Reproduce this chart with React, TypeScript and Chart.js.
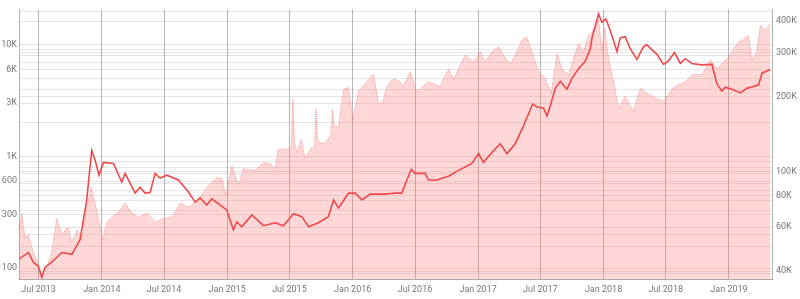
import React, { useEffect, useRef } from 'react';
import { Chart, registerables } from 'chart.js';

Chart.register(...registerables);

// ---- Data (decimal year -> value) ----
const priceYears = [
  2013.335, 2013.415, 2013.455, 2013.494, 2013.522, 2013.548, 2013.601, 2013.681, 2013.761, 2013.827,
  2013.88, 2013.92, 2013.947, 2013.978, 2014.013, 2014.093, 2014.159, 2014.186, 2014.266, 2014.305,
  2014.345, 2014.385, 2014.425, 2014.465, 2014.518, 2014.611, 2014.691, 2014.744, 2014.784, 2014.837,
  2014.877, 2014.943, 2014.997, 2015.049, 2015.077, 2015.116, 2015.196, 2015.289, 2015.382, 2015.448,
  2015.528, 2015.595, 2015.648, 2015.727, 2015.807, 2015.847, 2015.887, 2015.967, 2016.02, 2016.073,
  2016.14, 2016.259, 2016.339, 2016.392, 2016.432, 2016.467, 2016.498, 2016.578, 2016.604, 2016.671,
  2016.764, 2016.844, 2016.951, 2017.003, 2017.043, 2017.11, 2017.176, 2017.23, 2017.296, 2017.362,
  2017.402, 2017.434, 2017.469, 2017.522, 2017.549, 2017.575, 2017.615, 2017.655, 2017.708, 2017.748,
  2017.801, 2017.854, 2017.894, 2017.907, 2017.96, 2017.987, 2018.019, 2018.053, 2018.107, 2018.133,
  2018.173, 2018.213, 2018.266, 2018.319, 2018.346, 2018.386, 2018.426, 2018.478, 2018.514, 2018.566,
  2018.612, 2018.651, 2018.705, 2018.78, 2018.864, 2018.904, 2018.944, 2018.971, 2019.024, 2019.09,
  2019.144, 2019.236, 2019.263, 2019.329,
];
const priceValues = [
  120, 138, 113, 104, 83, 102, 113, 138, 133, 180,
  408, 1130, 922, 680, 885, 865, 590, 705, 470, 530,
  470, 475, 705, 640, 680, 615, 480, 390, 425, 368,
  417, 368, 330, 221, 260, 235, 300, 240, 255, 240,
  307, 289, 235, 255, 289, 408, 346, 470, 470, 408,
  460, 460, 470, 470, 615, 765, 705, 705, 615, 615,
  665, 750, 865, 1060, 885, 1085, 1300, 1060, 1300, 1880,
  2400, 2950, 2770, 2700, 2300, 2830, 4070, 4700, 4000, 5000,
  6100, 7100, 9200, 11300, 18800, 15900, 17000, 13500, 8700, 11500,
  11800, 9200, 7400, 9600, 10000, 9000, 8200, 6660, 7100, 8500,
  6800, 7500, 6800, 6600, 6660, 4450, 3850, 4170, 4000, 3700,
  4070, 4350, 5560, 6000,
];

const txYears = [
  2013.335, 2013.362, 2013.388, 2013.415, 2013.455, 2013.482, 2013.522, 2013.561, 2013.601, 2013.641,
  2013.667, 2013.694, 2013.729, 2013.761, 2013.801, 2013.841, 2013.88, 2013.915, 2013.947, 2013.986,
  2014.005, 2014.04, 2014.08, 2014.132, 2014.186, 2014.239, 2014.292, 2014.359, 2014.425, 2014.491,
  2014.558, 2014.624, 2014.691, 2014.77, 2014.837, 2014.917, 2014.957, 2014.989, 2015.037, 2015.089,
  2015.129, 2015.222, 2015.289, 2015.342, 2015.382, 2015.408, 2015.475, 2015.51, 2015.523, 2015.537,
  2015.555, 2015.589, 2015.621, 2015.669, 2015.695, 2015.707, 2015.72, 2015.741, 2015.781, 2015.825,
  2015.839, 2015.855, 2015.887, 2015.927, 2015.967, 2016.002, 2016.046, 2016.1, 2016.166, 2016.206,
  2016.233, 2016.273, 2016.325, 2016.379, 2016.405, 2016.459, 2016.512, 2016.604, 2016.698, 2016.764,
  2016.804, 2016.897, 2016.963, 2017.017, 2017.057, 2017.11, 2017.163, 2017.203, 2017.256, 2017.309,
  2017.349, 2017.389, 2017.429, 2017.482, 2017.535, 2017.583, 2017.628, 2017.668, 2017.721, 2017.761,
  2017.801, 2017.841, 2017.88, 2017.907, 2017.96, 2017.987, 2018.008, 2018.04, 2018.08, 2018.12,
  2018.173, 2018.239, 2018.292, 2018.359, 2018.426, 2018.478, 2018.545, 2018.598, 2018.651, 2018.718,
  2018.785, 2018.851, 2018.904, 2018.944, 2018.997, 2019.037, 2019.077, 2019.116, 2019.156, 2019.183,
  2019.223, 2019.25, 2019.29, 2019.329,
];
const txValues = [
  54800, 68200, 54300, 55800, 47300, 44400, 38000, 41700, 47300, 65000,
  58400, 56800, 60000, 51900, 58400, 53300, 72000, 86400, 74700, 60000,
  53300, 62800, 65700, 68800, 74700, 68200, 65700, 68200, 62800, 65000,
  65700, 74700, 72000, 76700, 86400, 94700, 93800, 80300, 105600, 88000,
  102800, 101000, 108600, 107600, 102800, 123000, 123000, 125000, 196000, 130000,
  119000, 135000, 112600, 124500, 125000, 179000, 135000, 130000, 130000, 140000,
  177000, 150000, 152000, 213000, 217000, 162000, 209000, 225000, 246000, 188000,
  186000, 219000, 236000, 229000, 219000, 251000, 209000, 229000, 219000, 258000,
  234000, 293000, 275000, 302000, 275000, 302000, 316000, 293000, 268000, 302000,
  336000, 346000, 302000, 251000, 236000, 206000, 296000, 258000, 244000, 283000,
  325000, 302000, 351000, 361000, 407000, 302000, 378000, 283000, 229000, 179000,
  200000, 174000, 215000, 204000, 196000, 191000, 215000, 223000, 229000, 246000,
  244000, 280000, 258000, 270000, 288000, 310000, 330000, 339000, 351000, 280000,
  302000, 385000, 368000, 390000,
];

// ---- Axis ticks ----
const xTickYears = [2013.496, 2014, 2014.496, 2015, 2015.496, 2016, 2016.497, 2017, 2017.496, 2018, 2018.496, 2019];
const xTickLabels = ['Jul 2013', 'Jan 2014', 'Jul 2014', 'Jan 2015', 'Jul 2015', 'Jan 2016', 'Jul 2016', 'Jan 2017', 'Jul 2017', 'Jan 2018', 'Jul 2018', 'Jan 2019'];
const leftGrid = [80, 90, 100, 200, 300, 400, 500, 600, 700, 800, 900, 1000, 2000, 3000, 4000, 5000, 6000, 7000, 8000, 9000, 10000, 20000];
const leftLabels = [100, 300, 600, 1000, 3000, 6000, 10000];
const rightGrid = [40000, 50000, 60000, 70000, 80000, 90000, 100000, 200000, 300000, 400000];
const rightLabels = [40000, 60000, 80000, 100000, 200000, 300000, 400000];

const fmt = (v: number) => (v >= 1000 ? `${v / 1000}K` : `${v}`);

export default function App() {
  const canvasRef = useRef<HTMLCanvasElement | null>(null);

  useEffect(() => {
    document.body.style.margin = '0';
    const canvas = canvasRef.current;
    if (!canvas) return;
    const tickFont = { family: 'Roboto', size: 9 };
    const tickColor = '#777';
    const chart = new Chart(canvas, {
      type: 'line',
      data: {
        datasets: [
          {
            label: 'Price',
            data: priceYears.map((x, i) => ({ x, y: priceValues[i] })),
            yAxisID: 'y',
            borderColor: 'rgb(238, 72, 76)',
            borderWidth: 1.6,
            pointRadius: 0,
            fill: false,
            tension: 0,
          },
          {
            label: 'Transactions',
            data: txYears.map((x, i) => ({ x, y: txValues[i] })),
            yAxisID: 'y1',
            borderColor: 'rgba(238, 80, 80, 0.55)',
            borderWidth: 1,
            borderDash: [1, 1],
            backgroundColor: 'rgba(255, 110, 110, 0.28)',
            pointRadius: 0,
            fill: 'start',
            tension: 0,
          },
        ],
      },
      options: {
        animation: false,
        responsive: false,
        maintainAspectRatio: false,
        layout: { padding: { top: 7, left: 0, right: 0, bottom: 0 } },
        plugins: { legend: { display: false }, tooltip: { enabled: false } },
        scales: {
          x: {
            type: 'linear',
            min: 2013.34,
            max: 2019.343,
            afterBuildTicks: (s: any) => {
              s.ticks = xTickYears.map((v) => ({ value: v }));
            },
            afterFit: (s: any) => {
              s.height = 20;
            },
            grid: { color: 'rgba(0,0,0,0.28)', drawTicks: false, lineWidth: 1 },
            border: { display: true, color: 'rgba(0,0,0,0.25)' },
            ticks: {
              autoSkip: false,
              maxRotation: 0,
              padding: 5,
              font: tickFont,
              color: tickColor,
              callback: (v: any) => {
                const i = xTickYears.indexOf(Number(v));
                return i >= 0 ? xTickLabels[i] : '';
              },
            },
          },
          y: {
            type: 'logarithmic',
            position: 'left',
            min: 80,
            max: 20700,
            afterBuildTicks: (s: any) => {
              s.ticks = leftGrid.map((v) => ({ value: v }));
            },
            afterFit: (s: any) => {
              s.width = 19;
            },
            grid: { color: 'rgba(0,0,0,0.1)', drawTicks: false },
            border: { display: true, color: 'rgba(0,0,0,0.3)' },
            ticks: {
              autoSkip: false,
              padding: 2,
              font: tickFont,
              color: tickColor,
              callback: (v: any) => (leftLabels.includes(Number(v)) ? fmt(Number(v)) : ''),
            },
          },
          y1: {
            type: 'logarithmic',
            position: 'right',
            min: 37200,
            max: 446000,
            afterBuildTicks: (s: any) => {
              s.ticks = rightGrid.map((v) => ({ value: v }));
            },
            afterFit: (s: any) => {
              s.width = 28;
            },
            grid: { color: 'rgba(0,0,0,0.1)', drawTicks: false },
            border: { display: true, color: 'rgba(0,0,0,0.3)' },
            ticks: {
              autoSkip: false,
              padding: 4,
              font: tickFont,
              color: tickColor,
              callback: (v: any) => (rightLabels.includes(Number(v)) ? fmt(Number(v)) : ''),
            },
          },
        },
      },
    } as any);
    return () => chart.destroy();
  }, []);

  return (
    <div style={{ width: 800, height: 299 }}>
      <canvas ref={canvasRef} width={800} height={299} style={{ display: 'block' }} />
    </div>
  );
}
